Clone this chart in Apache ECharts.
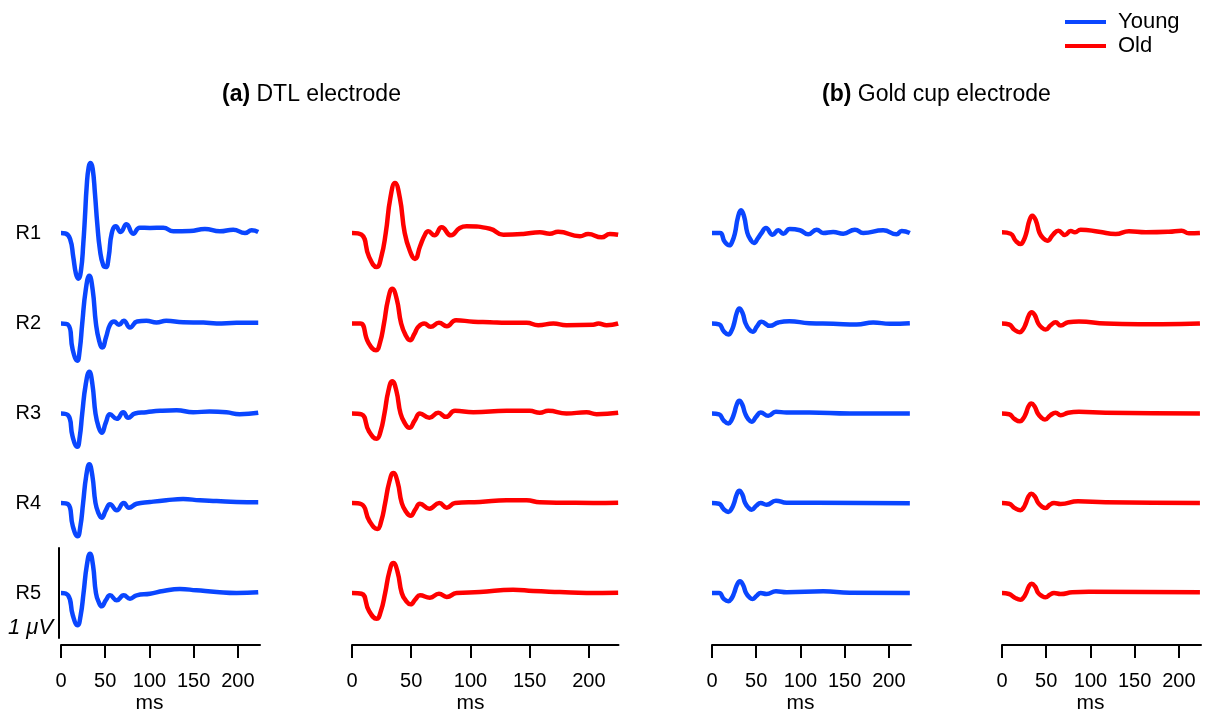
<!DOCTYPE html>
<html>
<head>
<meta charset="utf-8">
<script src="https://cdn.jsdelivr.net/npm/echarts@6/dist/echarts.min.js"></script>
<style>
html, body { margin: 0; padding: 0; background: #fff; }
#main { width: 1207px; height: 713px; }
</style>
</head>
<body>
<div id="main"></div>
<script>
// tick labels and row names
var tickValues = [0, 50, 100, 150, 200];
var rowNames = ['R1', 'R2', 'R3', 'R4', 'R5'];

// traces: [ms, uV]
var dtlYoungR1 = [[0,0],[5,-0.005],[10.2,-0.063],[13.9,-0.267],[16.9,-0.452],[19.6,-0.507],[22.6,-0.415],[25.2,-0.119],[27.1,0.178],[29,0.511],[31.3,0.733],[33.5,0.778],[35.8,0.715],[38.4,0.437],[41,0.104],[44.1,-0.193],[47.8,-0.359],[50.8,-0.378],[53.9,-0.267],[57.3,-0.007],[62,0.074],[67.4,0.011],[74,0.097],[81.7,-0.008],[89,0.059],[100.6,0.056],[115.6,0.059],[127,0.019],[145.8,0.022],[162.7,0.044],[179.7,0.019],[194.7,0.037],[208,0],[215.5,0.03],[223,0.011]];
var dtlYoungR2 = [[0,0],[8,-0.014],[13.2,-0.29],[18.4,-0.414],[21.2,-0.29],[24,0],[28,0.375],[32,0.53],[35.8,0.375],[39.5,0],[43.1,-0.19],[46.7,-0.267],[51,-0.15],[55.4,-0.014],[60,0.022],[65.5,-0.014],[71,0.03],[78,-0.044],[86,0.022],[96.5,0.03],[108,0.011],[119,0.03],[138,0.014],[161,0.011],[176,0],[198.5,0.008],[223,0.008]];
var dtlYoungR3 = [[0,0],[8,-0.019],[13.2,-0.26],[18.4,-0.37],[21.2,-0.26],[24,0],[28,0.325],[32,0.463],[35.5,0.325],[39,0],[42.5,-0.15],[46,-0.214],[50.7,-0.1],[55.4,-0.008],[63,-0.059],[70.4,0.014],[76,-0.048],[83.6,0],[96.5,0.014],[112,0.03],[130.7,0.037],[149.5,0.014],[168,0.022],[187,0.014],[202,-0.008],[223,0.008]];
var dtlYoungR4 = [[0,0],[8,-0.014],[13.4,-0.26],[18.8,-0.37],[21.9,-0.26],[25,0],[28.5,0.3],[32,0.43],[35.5,0.3],[39,0],[42.5,-0.115],[46,-0.163],[50.7,-0.08],[55.4,-0.014],[63,-0.081],[71,0],[76.8,-0.052],[85.5,-0.008],[100.6,0.011],[119,0.03],[138,0.044],[157,0.03],[176,0.022],[198.5,0.011],[223,0.008]];
var dtlYoungR5 = [[0,0],[8,-0.026],[13.4,-0.25],[18.8,-0.359],[22.2,-0.25],[25.5,0],[29.2,0.306],[32.8,0.437],[36.2,0.306],[39.5,0],[42.8,-0.104],[46,-0.148],[50.7,-0.08],[55.4,-0.026],[63,-0.081],[71,-0.026],[78,-0.063],[85.5,-0.026],[100.6,-0.008],[115.6,0.022],[134.5,0.044],[153,0.03],[176,0.011],[198.5,0],[223,0.008]];

var dtlOldR1 = [[0,0],[8,-0.019],[14.4,-0.265],[20.8,-0.378],[24.7,-0.265],[28.5,0],[32.4,0.39],[36.3,0.556],[40.4,0.39],[44.5,0],[48.9,-0.2],[53.2,-0.289],[57.4,-0.15],[61.6,-0.019],[64.4,0.019],[69.5,-0.026],[75.7,0.063],[83.5,-0.026],[91,0.056],[96.8,0.074],[116.5,0.048],[127.7,-0.019],[144.6,-0.011],[158.6,0.008],[167,-0.008],[174,0.014],[192.4,-0.037],[199.4,-0.011],[210.7,-0.048],[217.7,-0.011],[224.7,-0.019]];
var dtlOldR2 = [[0,0],[7,0],[13.7,-0.21],[20.3,-0.297],[23.7,-0.21],[27,0],[30.5,0.27],[34,0.386],[37.8,0.27],[41.5,0],[45.3,-0.13],[49,-0.186],[52.5,-0.12],[56,-0.037],[61,0],[66.4,-0.037],[73.4,0.008],[80,-0.03],[87.8,0.037],[102.4,0.019],[116.5,0.014],[130.5,0.008],[147.4,0.008],[157.2,-0.019],[170,0],[181,-0.019],[203.6,-0.014],[208,0],[215,-0.019],[224.7,0]];
var dtlOldR3 = [[0,0],[8,-0.011],[14.4,-0.2],[20.8,-0.281],[24.1,-0.2],[27.4,0],[30.7,0.25],[34,0.359],[37.5,0.25],[41,0],[44.7,-0.11],[48.4,-0.159],[52.9,-0.08],[57.4,0],[65.3,-0.048],[72.8,0.008],[79.3,-0.037],[87,0.03],[102.4,0.014],[130.5,0.03],[150,0.03],[158.6,0.008],[165.7,0.03],[181,0],[198,0.014],[206.5,-0.008],[224.7,0.008]];
var dtlOldR4 = [[0,0],[8,-0.014],[14.7,-0.2],[21.4,-0.289],[24.7,-0.2],[28,0],[31.5,0.233],[34.9,0.333],[38.5,0.233],[42,0],[45.8,-0.1],[49.5,-0.141],[53.5,-0.07],[57.4,-0.008],[65.3,-0.063],[73.7,0],[80,-0.052],[87,0],[108,0.011],[130.5,0.03],[147.4,0.03],[158.6,0.008],[181,0.003],[203.6,0],[224.7,0.003]];
var dtlOldR5 = [[0,0],[8,-0.008],[14.4,-0.2],[20.8,-0.286],[24.4,-0.2],[28,0],[31.5,0.233],[34.9,0.333],[38.5,0.233],[42,0],[45.8,-0.09],[49.5,-0.126],[53.5,-0.07],[57.4,-0.026],[65.8,-0.052],[73.4,-0.008],[80,-0.044],[88.3,0],[108,0.011],[136,0.037],[153,0.022],[175.5,0.011],[198,0],[224.7,0.003]];

var goldYoungR1 = [[0,0],[9,0],[14.3,-0.097],[19.6,-0.137],[22.8,-0.097],[26,0],[29.4,0.178],[32.8,0.252],[36.4,0.178],[40,0],[43.8,-0.078],[47.5,-0.111],[51.8,-0.06],[56,0],[61,0.056],[68.6,-0.019],[75,0.03],[80.6,-0.008],[88,0.044],[99.4,0.03],[108.8,-0.014],[118.3,0.037],[125.8,0],[137,0.011],[148.4,-0.008],[161.6,0.037],[171,0],[193.6,0.03],[208.7,-0.014],[214.4,0.022],[223.7,0]];
var goldYoungR2 = [[0,0],[8,-0.011],[13.3,-0.086],[18.5,-0.122],[21.8,-0.086],[25,0],[28,0.118],[30.9,0.167],[34.5,0.118],[38,0],[42,-0.065],[46,-0.092],[51,-0.03],[56,0.019],[65.5,-0.026],[75,0.011],[87.4,0.026],[110,0.003],[137,-0.003],[163.5,-0.011],[182.3,0.011],[201,-0.003],[223.7,0.003]];
var goldYoungR3 = [[0,0],[8,-0.011],[13.3,-0.078],[18.5,-0.111],[21.8,-0.078],[25,0],[28,0.1],[30.9,0.141],[34.2,0.1],[37.5,0],[41.2,-0.065],[44.8,-0.092],[50,-0.035],[55,0.011],[63.6,-0.026],[72.3,0.019],[84.3,0.011],[110,0.011],[155.8,0],[223.7,0]];
var goldYoungR4 = [[0,0],[8,-0.008],[13.3,-0.07],[18.5,-0.1],[21.8,-0.07],[25,0],[28,0.097],[30.9,0.137],[34.2,0.097],[37.5,0],[41.2,-0.052],[44.8,-0.074],[50,-0.03],[55,0],[61.7,-0.019],[72.3,0.026],[84.3,0.003],[118.3,0.003],[223.7,-0.003]];
var goldYoungR5 = [[0,0],[8,0],[13.3,-0.065],[18.5,-0.092],[21.8,-0.065],[25,0],[28.3,0.092],[31.6,0.13],[35,0.092],[38.5,0],[42.2,-0.047],[46,-0.067],[50.5,-0.03],[55,0],[61.7,-0.011],[72.3,0.019],[84.3,0.008],[125.8,0.019],[155.8,0.003],[223.7,0]];

var goldOldR1 = [[0,0.008],[9.8,-0.008],[15.4,-0.086],[21,-0.122],[24.3,-0.086],[27.5,0],[30.9,0.136],[34.3,0.192],[38.4,0.136],[42.5,0],[46.9,-0.061],[51.2,-0.086],[57.5,-0.02],[63.7,0.026],[71.2,-0.022],[77.6,0.022],[82.5,0.008],[88.9,0.037],[109.6,0.014],[128.5,-0.011],[143.5,0.019],[162.4,0.008],[188.7,0.014],[203,0.026],[211.3,-0.003],[223.8,0]];
var goldOldR2 = [[0,0],[8,-0.011],[14,-0.069],[20,-0.097],[23.5,-0.069],[27,0],[30.3,0.089],[33.5,0.126],[37.3,0.089],[41,0],[45.2,-0.047],[49.3,-0.067],[55,-0.02],[60.6,0.014],[66.3,-0.022],[74.8,0.014],[87,0.022],[117,0],[154.8,-0.008],[181,-0.008],[223.8,0]];
var goldOldR3 = [[0,0],[8,-0.008],[14.2,-0.061],[20.3,-0.086],[23.7,-0.061],[27,0],[30,0.079],[33.1,0.111],[36.8,0.079],[40.5,0],[44.6,-0.047],[48.6,-0.067],[54.6,-0.02],[60.6,0.008],[66.3,-0.019],[74.8,0.008],[87,0.019],[117,0.008],[223.8,0]];
var goldOldR4 = [[0,0],[8,-0.008],[14.5,-0.057],[21,-0.081],[24,-0.057],[27,0],[30,0.073],[33.1,0.103],[37,0.073],[41,0],[45.2,-0.04],[49.3,-0.056],[54,-0.02],[58.8,0],[66.3,-0.011],[86,0.019],[117,0.008],[223.8,0]];
var goldOldR5 = [[0,0],[8,-0.011],[14.5,-0.052],[21,-0.074],[24.2,-0.052],[27.3,0],[30.4,0.073],[33.5,0.103],[37.3,0.073],[41,0],[45.2,-0.034],[49.3,-0.048],[54,-0.02],[58.8,0],[66.3,-0.011],[79.5,0.008],[98,0.014],[223.8,0.008]];

var panels = [
    { name: 'Young', color: '#0a46ff', rows: [dtlYoungR1, dtlYoungR2, dtlYoungR3, dtlYoungR4, dtlYoungR5], left: 61, width: 199 },
    { name: 'Old', color: '#ff0000', rows: [dtlOldR1, dtlOldR2, dtlOldR3, dtlOldR4, dtlOldR5], left: 352, width: 266.5 },
    { name: 'Young', color: '#0a46ff', rows: [goldYoungR1, goldYoungR2, goldYoungR3, goldYoungR4, goldYoungR5], left: 712, width: 199 },
    { name: 'Old', color: '#ff0000', rows: [goldOldR1, goldOldR2, goldOldR3, goldOldR4, goldOldR5], left: 1002, width: 199 }
];
var rowBase = [233, 323.5, 413.5, 503, 593];
var font = 'Liberation Sans, Arial, sans-serif';

var myChart = echarts.init(document.getElementById('main'));
var grids = [], xAxes = [], yAxes = [], series = [];

for (var c = 0; c < panels.length; c++) {
    var p = panels[c];
    for (var r = 0; r < 5; r++) {
        var g = grids.length;
        grids.push({ left: p.left, width: p.width, top: rowBase[r] - 90, height: 180, outerBoundsMode: 'none' });
        xAxes.push({ gridIndex: g, type: 'value', min: 0, max: 225, show: false });
        if (c == 0) {
            yAxes.push({
                gridIndex: g, type: 'value', min: -1, max: 1,
                axisLine: { show: false }, axisTick: { show: false },
                axisLabel: { show: false }, splitLine: { show: false },
                name: rowNames[r], nameLocation: 'middle', nameRotate: 0, nameGap: 20,
                nameTextStyle: { fontSize: 20, color: '#000', fontFamily: font }
            });
        } else {
            yAxes.push({ gridIndex: g, type: 'value', min: -1, max: 1, show: false });
        }
        series.push({
            name: p.name,
            type: 'line',
            xAxisIndex: g,
            yAxisIndex: g,
            data: p.rows[r],
            smooth: 0.5,
            showSymbol: false,
            clip: false,
            lineStyle: { width: 4.5, color: p.color },
            itemStyle: { color: p.color }
        });
    }
}

// time axes under each column
for (var c = 0; c < panels.length; c++) {
    var g = grids.length;
    var shift = 12.5 * panels[c].width / 225;
    grids.push({ left: panels[c].left, width: panels[c].width, top: 600, height: 45, outerBoundsMode: 'none' });
    xAxes.push({
        gridIndex: g, type: 'value', min: 0, max: 225,
        axisLine: { lineStyle: { color: '#000', width: 2 } },
        axisTick: { length: 13, lineStyle: { color: '#000', width: 2 }, customValues: tickValues },
        axisLabel: { customValues: tickValues, margin: 26, fontSize: 20, color: '#000', fontFamily: font },
        splitLine: { show: false },
        name: 'ms', nameLocation: 'middle', nameGap: 48,
        nameTextStyle: { fontSize: 21, color: '#000', fontFamily: font, padding: [0, shift * 2, 0, 0] }
    });
    yAxes.push({ gridIndex: g, type: 'value', min: 0, max: 1, show: false });
}

// 1 uV scale bar
var sg = grids.length;
grids.push({ left: 59, width: 10, top: 548, height: 90, outerBoundsMode: 'none' });
xAxes.push({ gridIndex: sg, type: 'value', show: false });
yAxes.push({
    gridIndex: sg, type: 'value', min: 0, max: 1,
    axisLine: { show: true, lineStyle: { color: '#000', width: 2 } },
    axisTick: { show: false }, axisLabel: { show: false }, splitLine: { show: false }
});

option = {
    animation: false,
    textStyle: { fontFamily: font },
    title: [
        {
            text: '{b|(a)} DTL electrode', left: 217, top: 78,
            textStyle: { fontSize: 23, fontWeight: 'normal', color: '#000', fontFamily: font,
                rich: { b: { fontSize: 23, fontWeight: 'bold', color: '#000', fontFamily: font } } }
        },
        {
            text: '{b|(b)} Gold cup electrode', left: 817, top: 78,
            textStyle: { fontSize: 23, fontWeight: 'normal', color: '#000', fontFamily: font,
                rich: { b: { fontSize: 23, fontWeight: 'bold', color: '#000', fontFamily: font } } }
        }
    ],
    legend: {
        data: ['Young', 'Old'],
        orient: 'vertical',
        left: 1060, top: 6,
        icon: 'rect',
        itemWidth: 41, itemHeight: 4, itemGap: 2,
        textStyle: { fontSize: 22, color: '#000', fontFamily: font, padding: [0, 0, 0, 7] }
    },
    graphic: [
        {
            type: 'text', left: 8, top: 617,
            style: { text: '1 \u03bcV', font: 'italic 22px ' + font, fill: '#000' }
        }
    ],
    grid: grids,
    xAxis: xAxes,
    yAxis: yAxes,
    series: series
};
myChart.setOption(option);
</script>
</body>
</html>
